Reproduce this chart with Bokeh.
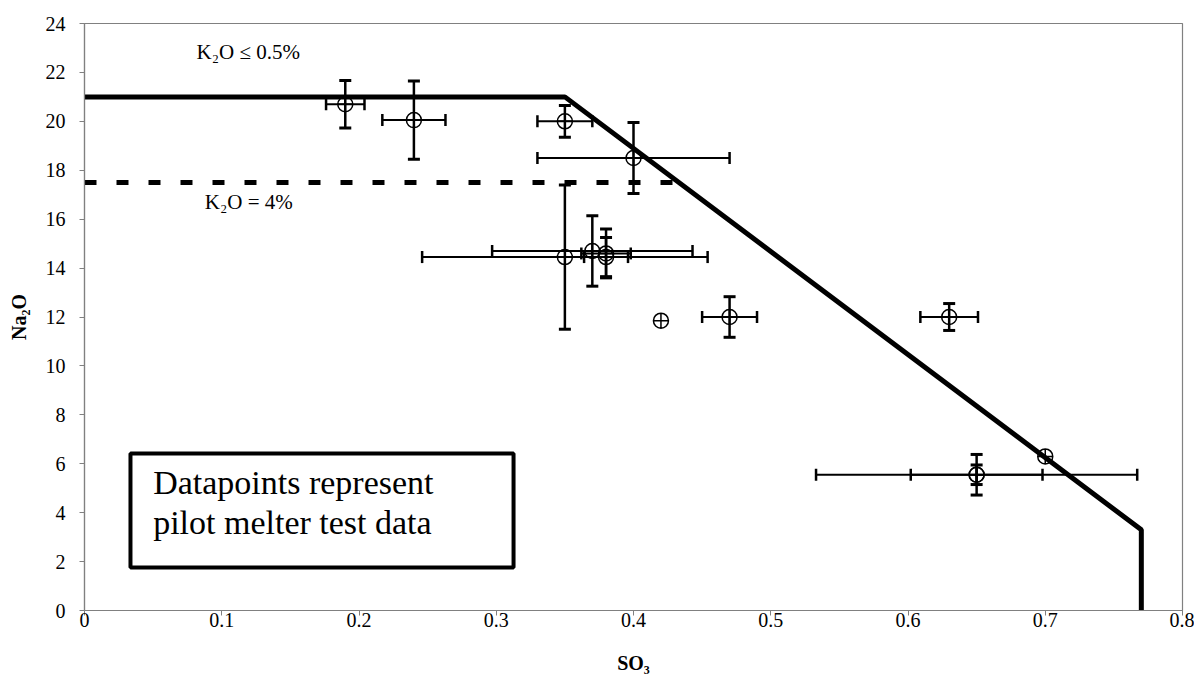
from bokeh.plotting import figure
from bokeh.models import (ColumnDataSource, Whisker, TeeHead, Range1d, FixedTicker,
                          BoxAnnotation, Label)
from bokeh.embed import file_html
from bokeh.resources import INLINE

# ---- data ----
so3 = [0.19, 0.24, 0.35, 0.40, 0.35, 0.37, 0.38, 0.38, 0.42, 0.47, 0.63, 0.65, 0.65, 0.70]
na2o = [20.7, 20.05, 20.0, 18.5, 14.45, 14.7, 14.6, 14.45, 11.85, 12.0, 12.0, 5.55, 5.55, 6.3]
so3_err = [0.014, 0.023, 0.02, 0.07, 0.104, 0.073, 0.018, 0.016, 0.0, 0.02, 0.021, 0.117, 0.048, 0.0]
na2o_err = [0.97, 1.6, 0.65, 1.45, 2.95, 1.44, 1.0, 0.8, 0.0, 0.83, 0.55, 0.83, 0.4, 0.0]

limit_low_k_x = [0.0, 0.35, 0.77, 0.77]
limit_low_k_y = [21.0, 21.0, 3.3, 0.0]
limit_high_k_x = [0.0, 0.433]
limit_high_k_y = [17.5, 17.5]

x_ticks = [0, 0.1, 0.2, 0.3, 0.4, 0.5, 0.6, 0.7, 0.8]
x_tick_labels = ["0", "0.1", "0.2", "0.3", "0.4", "0.5", "0.6", "0.7", "0.8"]
y_ticks = [0, 2, 4, 6, 8, 10, 12, 14, 16, 18, 20, 22, 24]

SERIF = "Liberation Serif"

p = figure(width=1194, height=682, output_backend="svg", toolbar_location=None,
           x_range=Range1d(0, 0.8), y_range=Range1d(0, 24),
           min_border_left=84, min_border_right=12, min_border_top=23, min_border_bottom=72)
p.background_fill_color = "white"
p.border_fill_color = "white"
p.outline_line_color = "#808080"
p.outline_line_width = 1.2
p.xgrid.visible = False
p.ygrid.visible = False

for ax in (p.xaxis[0], p.yaxis[0]):
    ax.axis_line_color = "#808080"
    ax.axis_line_width = 1.2
    ax.major_tick_line_color = "#808080"
    ax.major_tick_in = 0
    ax.major_tick_out = 5
    ax.minor_tick_line_color = None
    ax.major_label_text_font = SERIF
    ax.major_label_text_font_size = "20px"
    ax.major_label_text_color = "black"
    ax.axis_label_text_font = SERIF
    ax.axis_label_text_font_size = "20px"
    ax.axis_label_text_font_style = "bold"
    ax.axis_label_text_color = "black"

p.xaxis.ticker = FixedTicker(ticks=x_ticks)
p.xaxis.major_label_overrides = {t: l for t, l in zip(x_ticks, x_tick_labels)}
p.yaxis.ticker = FixedTicker(ticks=y_ticks)
p.xaxis.axis_label = "SO₃"
p.yaxis.axis_label = "Na₂O"
p.xaxis.major_label_standoff = -3
p.yaxis.major_label_standoff = 14
p.xaxis.axis_label_standoff = 22
p.yaxis.axis_label_standoff = 13

# limit lines
p.line(limit_low_k_x, limit_low_k_y, line_color="black", line_width=5)
p.line(limit_high_k_x, limit_high_k_y, line_color="black", line_width=5, line_dash="12 20")

# error bars
xe = [(x, y, e) for x, y, e in zip(so3, na2o, so3_err) if e > 0]
ye = [(x, y, e) for x, y, e in zip(so3, na2o, na2o_err) if e > 0]
xsrc = ColumnDataSource(dict(y=[t[1] for t in xe], lo=[t[0] - t[2] for t in xe], hi=[t[0] + t[2] for t in xe]))
ysrc = ColumnDataSource(dict(x=[t[0] for t in ye], lo=[t[1] - t[2] for t in ye], hi=[t[1] + t[2] for t in ye]))

p.add_layout(Whisker(source=xsrc, base="y", lower="lo", upper="hi", dimension="width",
                     line_color="black", line_width=2,
                     lower_head=TeeHead(size=12, line_width=2.5, line_color="black"),
                     upper_head=TeeHead(size=12, line_width=2.5, line_color="black")))
p.add_layout(Whisker(source=ysrc, base="x", lower="lo", upper="hi", dimension="height",
                     line_color="black", line_width=2.5,
                     lower_head=TeeHead(size=12, line_width=3, line_color="black"),
                     upper_head=TeeHead(size=12, line_width=3, line_color="black")))

p.scatter(so3, na2o, marker="circle_cross", size=15, fill_color=None,
          line_color="black", line_width=1.5)

# annotations
p.add_layout(Label(x=0.0816, y=22.83, text="K₂O ≤ 0.5%", text_font=SERIF,
                   text_font_size="21px", text_color="black", text_baseline="alphabetic"))
p.add_layout(Label(x=0.0877, y=16.7, text="K₂O = 4%", text_font=SERIF,
                   text_font_size="21px", text_color="black", text_baseline="alphabetic"))

p.add_layout(BoxAnnotation(left=0.0335, right=0.3126, bottom=1.76, top=6.42,
                           fill_color="white", fill_alpha=1.0,
                           line_color="black", line_width=4, line_alpha=1.0))
p.add_layout(Label(x=0.050, y=5.25, text="Datapoints represent", text_font=SERIF,
                   text_font_size="34px", text_color="black", text_baseline="alphabetic"))
p.add_layout(Label(x=0.050, y=3.6, text="pilot melter test data", text_font=SERIF,
                   text_font_size="34px", text_color="black", text_baseline="alphabetic"))

open("out.html", "w").write(file_html(p, INLINE))
